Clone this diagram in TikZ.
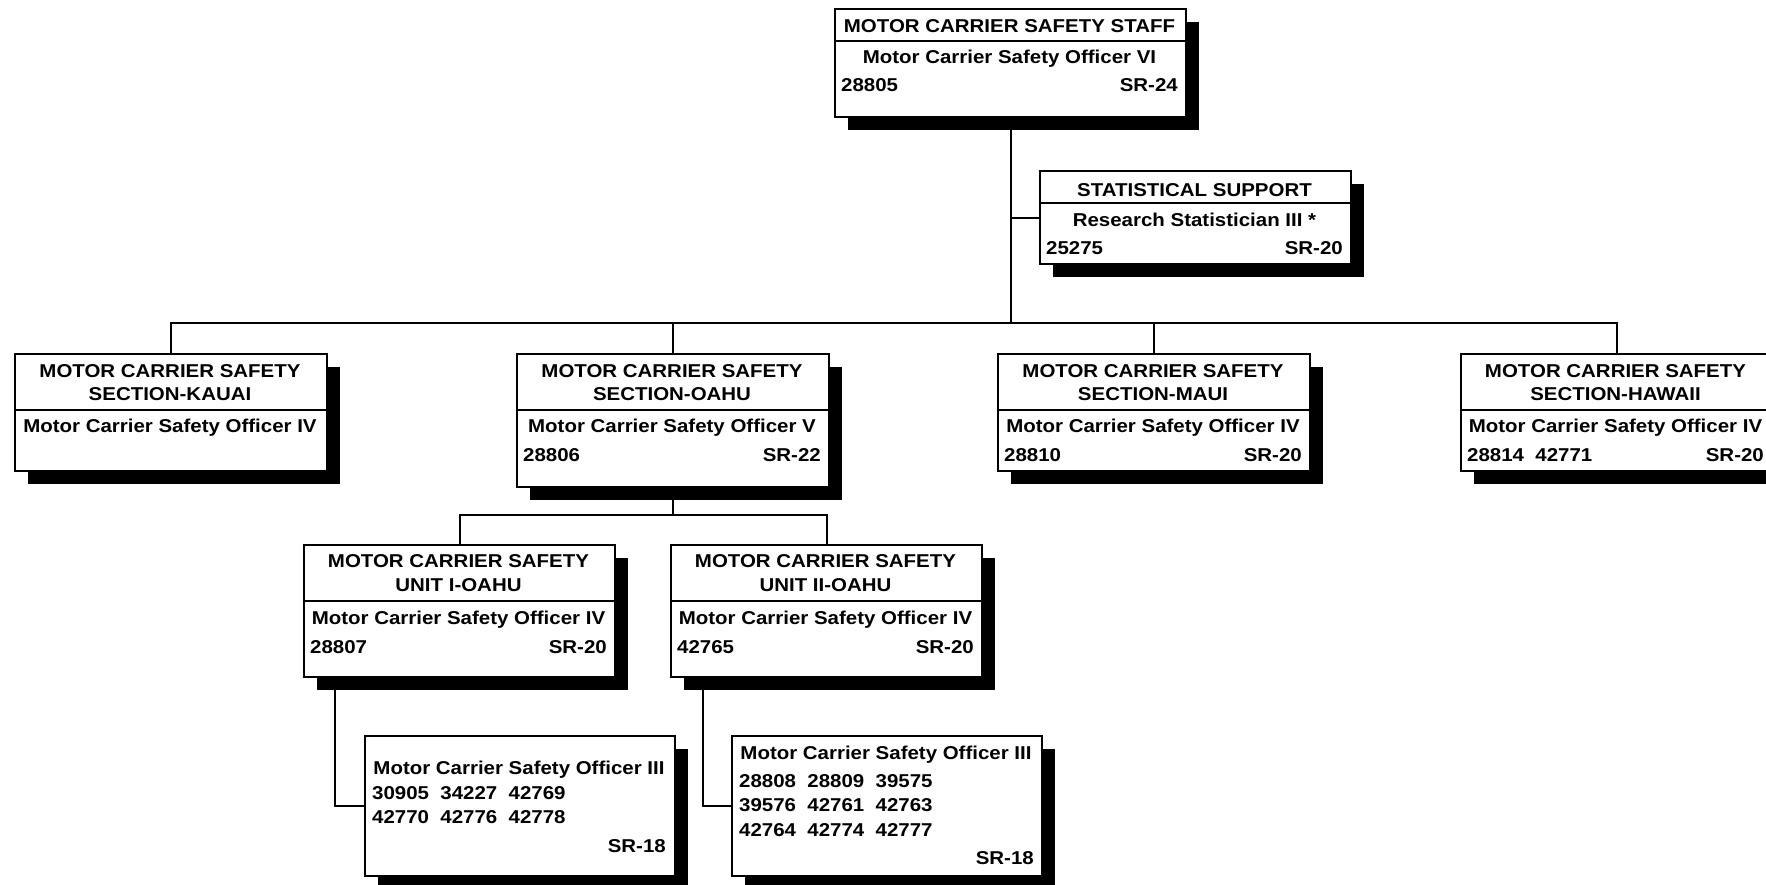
\documentclass[tikz,border=0pt]{standalone}
\usepackage{fontspec}
\setmainfont{Liberation Sans}[FakeStretch=1.1]
\usetikzlibrary{shadows}
\begin{document}
\begin{tikzpicture}[x=1pt,y=-1pt,
  box/.style={draw, line width=2pt, fill=white, inner sep=0pt, anchor=north west,
    drop shadow={shadow xshift=13pt, shadow yshift=-13pt, opacity=1, fill=black}},
  txt/.style={inner sep=0pt, font=\fontsize{18.6}{22}\selectfont\bfseries, anchor=base},
  lt/.style={txt, anchor=base west},
  rt/.style={txt, anchor=base east},
  conn/.style={line width=2pt},
]
\useasboundingbox (0,0) rectangle (1766,884);
\fill[white] (0,0) rectangle (1766,884);
\clip (0,0) rectangle (1766,884);

% ---------- boxes ----------
\node[box, minimum width=351pt, minimum height=108pt] (staff) at (834,8) {};
\node[box, minimum width=311pt, minimum height=93pt] (stat) at (1039,170) {};
\node[box, minimum width=312pt, minimum height=117pt] (kauai) at (14,353) {};
\node[box, minimum width=312pt, minimum height=133pt] (oahu) at (516,353) {};
\node[box, minimum width=312pt, minimum height=117pt] (maui) at (997,353) {};
\node[box, minimum width=311pt, minimum height=117pt] (hawaii) at (1460,353) {};
\node[box, minimum width=311pt, minimum height=132pt] (unit1) at (303,544) {};
\node[box, minimum width=311pt, minimum height=132pt] (unit2) at (670,544) {};
\node[box, minimum width=310pt, minimum height=140pt] (off3a) at (364,735) {};
\node[box, minimum width=310pt, minimum height=140pt] (off3b) at (731,735) {};

% ---------- dividers ----------
\draw[conn] (staff.west |- 0,41) -- (staff.east |- 0,41);
\draw[conn] (stat.west |- 0,203) -- (stat.east |- 0,203);
\foreach \b in {kauai,oahu,maui,hawaii}
  \draw[conn] (\b.west |- 0,410) -- (\b.east |- 0,410);
\foreach \b in {unit1,unit2}
  \draw[conn] (\b.west |- 0,601) -- (\b.east |- 0,601);

% ---------- texts ----------
\node[txt] (staff-h) at (1009.5,32) {MOTOR CARRIER SAFETY STAFF};
\node[txt] (staff-t) at (1009.5,63) {Motor Carrier Safety Officer VI};
\node[lt] (staff-n) at (841,91.5) {28805};
\node[rt] (staff-g) at (1178,91.5) {SR-24};

\node[txt] (stat-h) at (1194.5,196.5) {STATISTICAL SUPPORT};
\node[txt] (stat-t) at (1194.5,226.5) {Research Statistician III *};
\node[lt] (stat-n) at (1046,254.5) {25275};
\node[rt] (stat-g) at (1343,254.5) {SR-20};

\node[txt] (kauai-h1) at (170,377) {MOTOR CARRIER SAFETY};
\node[txt] (kauai-h2) at (170,400.5) {SECTION-KAUAI};
\node[txt] (kauai-t) at (170,432.5) {Motor Carrier Safety Officer IV};

\node[txt] (oahu-h1) at (672,377) {MOTOR CARRIER SAFETY};
\node[txt] (oahu-h2) at (672,400.5) {SECTION-OAHU};
\node[txt] (oahu-t) at (672,432.5) {Motor Carrier Safety Officer V};
\node[lt] (oahu-n) at (523,461.5) {28806};
\node[rt] (oahu-g) at (821,461.5) {SR-22};

\node[txt] (maui-h1) at (1153,377) {MOTOR CARRIER SAFETY};
\node[txt] (maui-h2) at (1153,400.5) {SECTION-MAUI};
\node[txt] (maui-t) at (1153,432.5) {Motor Carrier Safety Officer IV};
\node[lt] (maui-n) at (1004,461.5) {28810};
\node[rt] (maui-g) at (1302,461.5) {SR-20};

\node[txt] (hawaii-h1) at (1615.5,377) {MOTOR CARRIER SAFETY};
\node[txt] (hawaii-h2) at (1615.5,400.5) {SECTION-HAWAII};
\node[txt] (hawaii-t) at (1615.5,432.5) {Motor Carrier Safety Officer IV};
\node[lt] (hawaii-n) at (1467,461.5) {28814\ \ 42771};
\node[rt] (hawaii-g) at (1764,461.5) {SR-20};

\node[txt] (unit1-h1) at (458.5,567.5) {MOTOR CARRIER SAFETY};
\node[txt] (unit1-h2) at (458.5,591.5) {UNIT I-OAHU};
\node[txt] (unit1-t) at (458.5,624) {Motor Carrier Safety Officer IV};
\node[lt] (unit1-n) at (310,653) {28807};
\node[rt] (unit1-g) at (607,653) {SR-20};

\node[txt] (unit2-h1) at (825.5,567.5) {MOTOR CARRIER SAFETY};
\node[txt] (unit2-h2) at (825.5,591.5) {UNIT II-OAHU};
\node[txt] (unit2-t) at (825.5,624) {Motor Carrier Safety Officer IV};
\node[lt] (unit2-n) at (677,653) {42765};
\node[rt] (unit2-g) at (974,653) {SR-20};

\node[txt] (off3a-t) at (519,774) {Motor Carrier Safety Officer III};
\node[lt] (off3a-n1) at (372,799) {30905\ \ 34227\ \ 42769};
\node[lt] (off3a-n2) at (372,823) {42770\ \ 42776\ \ 42778};
\node[rt] (off3a-g) at (666,852.5) {SR-18};

\node[txt] (off3b-t) at (886,759) {Motor Carrier Safety Officer III};
\node[lt] (off3b-n1) at (739,787) {28808\ \ 28809\ \ 39575};
\node[lt] (off3b-n2) at (739,811) {39576\ \ 42761\ \ 42763};
\node[lt] (off3b-n3) at (739,836) {42764\ \ 42774\ \ 42777};
\node[rt] (off3b-g) at (1034,864.5) {SR-18};

% ---------- connectors ----------
\coordinate (bus) at (1010,323);
\coordinate (obus) at (672,515);
\draw[conn] (staff.south) -- (staff.south |- bus);
\draw[conn] (stat.west) -- (stat.west -| staff.south);
\draw[conn] (kauai.north) -- (kauai.north |- bus) -- (hawaii.north |- bus) -- (hawaii.north);
\draw[conn] (oahu.north) -- (oahu.north |- bus);
\draw[conn] (maui.north) -- (maui.north |- bus);
\draw[conn] (oahu.south) -- (oahu.south |- obus);
\draw[conn] (unit1.north) -- (unit1.north |- obus) -- (unit2.north |- obus) -- (unit2.north);
\draw[conn] ([xshift=32pt]unit1.south west) |- (off3a.west);
\draw[conn] ([xshift=33pt]unit2.south west) |- (off3b.west);
\end{tikzpicture}
\end{document}
